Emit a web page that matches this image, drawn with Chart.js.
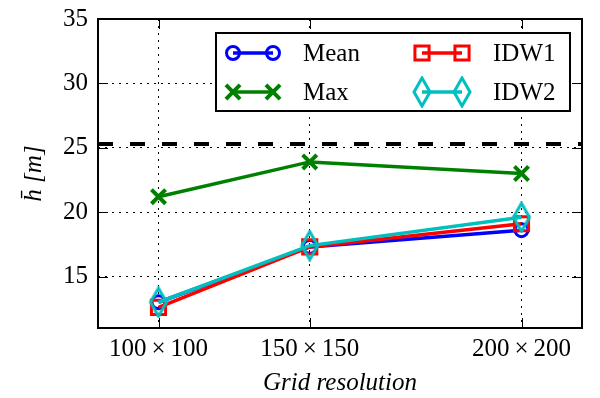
<!DOCTYPE html>
<html>
<head>
<meta charset="utf-8">
<script src="https://cdn.jsdelivr.net/npm/chart.js@4/dist/chart.umd.min.js"></script>
<style>
  body { margin: 0; background: #fff; }
  #wrap { width: 600px; height: 398px; }
</style>
</head>
<body>
<div id="wrap"><canvas id="lineChart" width="600" height="398"></canvas></div>
<script>
// Numero de celdas de la malla (eje x) y sus etiquetas
var cells = [10000, 22500, 40000];
var cellLabels = ['100\u2009\u00d7\u2009100', '150\u2009\u00d7\u2009150', '200\u2009\u00d7\u2009200'];
// Altura media por metodo
var meanH = [13.0, 17.3, 18.6];
var maxH = [21.2, 23.9, 23.0];
var idw1H = [12.6, 17.3, 19.1];
var idw2H = [13.0, 17.4, 19.6];
// Linea de referencia discontinua
var refH = 25.3;
// Ejes
var yTicks = [15, 20, 25, 30, 35];
var xMin = 5000, xMax = 45000, yMin = 11, yMax = 35;

var SERIF = '"Liberation Serif", "Times New Roman", serif';

function pts(ys) {
    return cells.map(function (c, i) { return { x: c, y: ys[i] }; });
}

// Diamante estrecho (marcador 'd' de matplotlib)
function thinDiamond(color) {
    var c = document.createElement('canvas');
    c.width = 22; c.height = 32;
    var g = c.getContext('2d');
    g.strokeStyle = color;
    g.lineWidth = 3;
    g.beginPath();
    g.moveTo(11, 2); g.lineTo(19, 16); g.lineTo(11, 30); g.lineTo(3, 16);
    g.closePath();
    g.stroke();
    return c;
}

var series = [
    { label: 'Mean', data: meanH, color: '#0000ff', style: 'circle', radius: 6.5, bw: 3 },
    { label: 'Max', data: maxH, color: '#008000', style: 'crossRot', radius: 10, bw: 4 },
    { label: 'IDW1', data: idw1H, color: '#ff0000', style: 'rect', radius: 10, bw: 3 },
    { label: 'IDW2', data: idw2H, color: '#00bfbf', style: thinDiamond('#00bfbf'), radius: 11, bw: 3 }
];

var datasets = series.map(function (s, i) {
    return {
        label: s.label,
        data: pts(s.data),
        borderColor: s.color,
        backgroundColor: 'rgba(0,0,0,0)',
        borderWidth: 3.5,
        pointStyle: s.style,
        pointRadius: s.radius,
        pointBorderWidth: s.bw,
        pointBorderColor: s.color,
        pointBackgroundColor: 'rgba(0,0,0,0)',
        tension: 0,
        order: series.length - i
    };
});
datasets.push({
    label: 'ref',
    data: [{ x: xMin, y: refH }, { x: xMax, y: refH }],
    borderColor: '#000',
    borderWidth: 4,
    borderDash: [15, 17],
    pointRadius: 0,
    order: 10
});

// Marco y marcas hacia dentro, como en matplotlib
var frame = {
    id: 'frame',
    afterDraw: function (chart) {
        var ctx = chart.ctx, a = chart.chartArea;
        var xs = chart.scales.x, ys = chart.scales.y;
        ctx.save();
        ctx.strokeStyle = '#000';
        ctx.lineWidth = 1;
        ctx.beginPath();
        yTicks.forEach(function (v) {
            var p = Math.round(ys.getPixelForValue(v)) + 0.5;
            ctx.moveTo(a.left, p); ctx.lineTo(a.left + 10, p);
            ctx.moveTo(a.right, p); ctx.lineTo(a.right - 10, p);
        });
        cells.forEach(function (v) {
            var p = Math.round(xs.getPixelForValue(v)) + 0.5;
            ctx.moveTo(p, a.bottom); ctx.lineTo(p, a.bottom - 10);
            ctx.moveTo(p, a.top); ctx.lineTo(p, a.top + 10);
        });
        ctx.stroke();
        ctx.lineWidth = 2;
        ctx.strokeRect(a.left, a.top, a.right - a.left, a.bottom - a.top);
        ctx.restore();
    }
};

// Leyenda en dos columnas con dos marcadores por entrada
var legendBox = {
    id: 'legendBox',
    afterDraw: function (chart) {
        var ctx = chart.ctx, a = chart.chartArea;
        var x0 = a.right - 366, y0 = a.top + 14, w = 354, h = 78;
        ctx.save();
        ctx.fillStyle = '#fff';
        ctx.fillRect(x0, y0, w, h);
        ctx.strokeStyle = '#000';
        ctx.lineWidth = 2;
        ctx.strokeRect(x0, y0, w, h);
        series.forEach(function (s, i) {
            var col = i < 2 ? 0 : 1, row = i % 2;
            var bx = x0 + (col ? 206 : 17);
            var ex = bx + 40;
            var y = y0 + (row ? 59 : 20);
            ctx.strokeStyle = s.color;
            ctx.fillStyle = 'rgba(0,0,0,0)';
            ctx.lineWidth = 3.5;
            ctx.beginPath();
            ctx.moveTo(bx, y); ctx.lineTo(ex, y);
            ctx.stroke();
            [bx, ex].forEach(function (px) {
                ctx.lineWidth = s.bw;
                Chart.helpers.drawPoint(ctx, { pointStyle: s.style, radius: s.radius, borderWidth: s.bw, rotation: 0 }, px, y);
            });
            ctx.fillStyle = '#000';
            ctx.font = '25px ' + SERIF;
            ctx.textBaseline = 'middle';
            ctx.textAlign = 'left';
            ctx.fillText(s.label, x0 + (col ? 277 : 87), y + 1);
        });
        ctx.restore();
    }
};

function draw() {
    Chart.defaults.font.family = SERIF;
    Chart.defaults.font.size = 25;
    Chart.defaults.color = '#000';

    new Chart(document.getElementById('lineChart').getContext('2d'), {
        type: 'line',
        data: { datasets: datasets },
        options: {
            responsive: false,
            animation: false,
            layout: { padding: { top: 19, right: 18, left: 0, bottom: 0 } },
            plugins: { legend: { display: false }, tooltip: { enabled: false } },
            scales: {
                x: {
                    type: 'linear',
                    min: xMin,
                    max: xMax,
                    afterBuildTicks: function (scale) {
                        scale.ticks = cells.map(function (v) { return { value: v }; });
                    },
                    afterFit: function (scale) {
                        scale.height = 70;
                        scale.paddingLeft = 0;
                        scale.paddingRight = 0;
                    },
                    ticks: {
                        autoSkip: false,
                        maxRotation: 0,
                        padding: 6,
                        callback: function (value) {
                            var i = cells.indexOf(value);
                            return i >= 0 ? cellLabels[i] : '';
                        }
                    },
                    grid: { color: '#000', lineWidth: 1, drawTicks: false },
                    border: { display: false, dash: [2, 5] },
                    title: { display: true, text: 'Grid resolution', font: { style: 'italic', size: 25 }, padding: { top: 0, bottom: 0 } }
                },
                y: {
                    min: yMin,
                    max: yMax,
                    afterBuildTicks: function (scale) {
                        scale.ticks = yTicks.map(function (v) { return { value: v }; });
                    },
                    afterFit: function (scale) {
                        scale.width = 98;
                        scale.paddingTop = 0;
                        scale.paddingBottom = 0;
                    },
                    ticks: { padding: 10 },
                    grid: { color: '#000', lineWidth: 1, drawTicks: false },
                    border: { display: false, dash: [2, 5] },
                    title: { display: true, text: 'h\u0304 [m]', font: { style: 'italic', size: 25 }, padding: { top: 19, bottom: 0 } }
                }
            }
        },
        plugins: [frame, legendBox]
    });
}

Promise.all([
    document.fonts.load('25px "Liberation Serif"'),
    document.fonts.load('italic 25px "Liberation Serif"')
]).then(draw, draw);
</script>
</body>
</html>
